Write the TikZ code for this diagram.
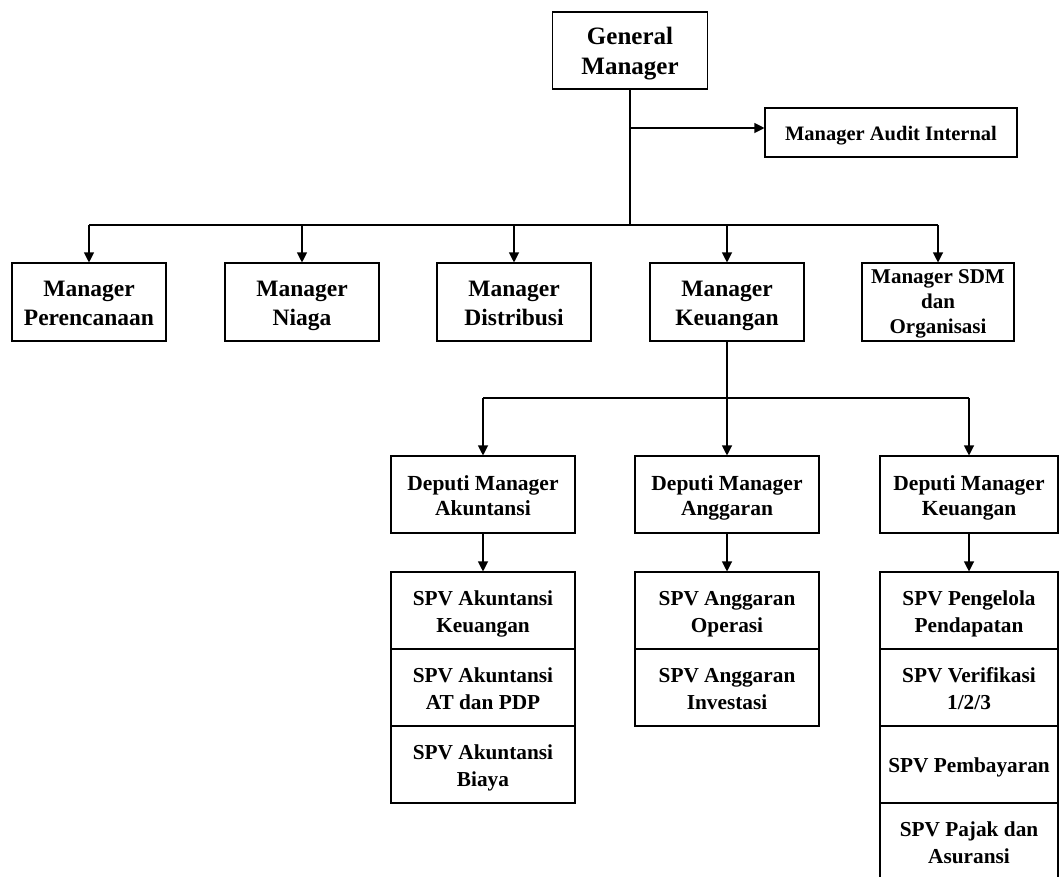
\documentclass[tikz,border=0pt]{standalone}
\usepackage{fontspec}
\setmainfont{Liberation Serif}
\usetikzlibrary{arrows.meta}
\newcommand{\boxtext}[2][3pt]{%
  \setbox\strutbox\hbox{\vrule height.7\baselineskip depth.3\baselineskip width0pt}%
  \raisebox{-#1}[\height][\depth]{\begin{tabular}{@{}c@{}}#2\end{tabular}}}
\tikzset{
  box/.style={draw, line width=1.1pt, inner sep=0pt},
  gmfont/.style={font=\fontsize{25}{30}\selectfont\bfseries},
  topfont/.style={font=\fontsize{23.5}{29}\selectfont\bfseries},
  sdmfont/.style={font=\fontsize{21}{25}\selectfont\bfseries},
  audfont/.style={font=\fontsize{20.5}{24}\selectfont\bfseries},
  depfont/.style={font=\fontsize{21.5}{25}\selectfont\bfseries},
  spvfont/.style={font=\fontsize{21.3}{27}\selectfont\bfseries},
  topbox/.style={box, topfont, minimum width=154pt, minimum height=78pt},
  depbox/.style={box, depfont, minimum height=77pt},
  spvbox/.style={box, spvfont, minimum height=77pt},
  link/.style={line width=1.1pt},
  arr/.style={line width=1.1pt, -{Triangle[length=10pt,width=10pt]}},
}
\begin{document}
\begin{tikzpicture}[x=1pt,y=-1pt]
\clip (0,0) rectangle (1059,876);
\fill[white] (0,0) rectangle (1059,876);

% top
\node[box, gmfont, minimum width=155pt, minimum height=77pt] (gm) at (630,50.5) {\boxtext{General\\Manager}};
\node[box, audfont, minimum width=252pt, minimum height=49pt] (audit) at (891,132.5) {\boxtext{Manager Audit Internal}};

% managers
\node[topbox] (per) at (89,302) {\boxtext{Manager\\Perencanaan}};
\node[topbox] (nia) at (302,302) {\boxtext{Manager\\Niaga}};
\node[topbox] (dis) at (514,302) {\boxtext{Manager\\Distribusi}};
\node[topbox] (keu) at (727,302) {\boxtext{Manager\\Keuangan}};
\node[box, sdmfont, minimum width=152pt, minimum height=78pt] (sdm) at (938,302) {\boxtext[1pt]{Manager SDM\\dan\\Organisasi}};

% deputies
\node[depbox, minimum width=184pt] (dak) at (483,494.5) {\boxtext{Deputi Manager\\Akuntansi}};
\node[depbox, minimum width=184pt] (dan) at (727,494.5) {\boxtext{Deputi Manager\\Anggaran}};
\node[depbox, minimum width=178pt] (dke) at (969,494.5) {\boxtext{Deputi Manager\\Keuangan}};

% SPV Akuntansi stack
\node[spvbox, minimum width=184pt] (ak1) at (483,610.5) {\boxtext{SPV Akuntansi\\Keuangan}};
\node[spvbox, minimum width=184pt] (ak2) at (483,687.5) {\boxtext{SPV Akuntansi\\AT dan PDP}};
\node[spvbox, minimum width=184pt] (ak3) at (483,764.5) {\boxtext{SPV Akuntansi\\Biaya}};

% SPV Anggaran stack
\node[spvbox, minimum width=184pt] (an1) at (727,610.5) {\boxtext{SPV Anggaran\\Operasi}};
\node[spvbox, minimum width=184pt] (an2) at (727,687.5) {\boxtext{SPV Anggaran\\Investasi}};

% SPV Keuangan stack
\node[spvbox, minimum width=178pt] (ke1) at (969,610.5) {\boxtext{SPV Pengelola\\Pendapatan}};
\node[spvbox, minimum width=178pt] (ke2) at (969,687.5) {\boxtext{SPV Verifikasi\\1/2/3}};
\node[spvbox, minimum width=178pt] (ke3) at (969,764.5) {\boxtext{SPV Pembayaran}};
\node[spvbox, minimum width=178pt] (ke4) at (969,841.5) {\boxtext{SPV Pajak dan\\Asuransi}};

% connectors from GM
\coordinate (b0) at (630,225);
\coordinate (ab) at (630,128);
\draw[link] (gm.south) -- (b0);
\draw[arr] (ab) -- (ab -| audit.west);
\draw[link] (per.north |- b0) -- (sdm.north |- b0);
\foreach \n in {per,nia,dis,keu,sdm}
  \draw[arr] (\n.north |- b0) -- (\n.north);

% connectors from Manager Keuangan
\coordinate (b1) at (727,398);
\draw[link] (keu.south) -- (b1);
\draw[link] (dak.north |- b1) -- (dke.north |- b1);
\foreach \n in {dak,dan,dke}
  \draw[arr] (\n.north |- b1) -- (\n.north);

% deputies to SPV stacks
\draw[arr] (dak.south) -- (ak1.north);
\draw[arr] (dan.south) -- (an1.north);
\draw[arr] (dke.south) -- (ke1.north);
\end{tikzpicture}
\end{document}
